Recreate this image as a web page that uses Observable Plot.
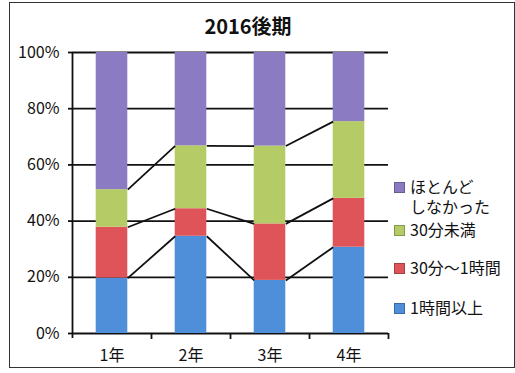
<!DOCTYPE html>
<html><head><meta charset="utf-8">
<script src="https://cdn.jsdelivr.net/npm/d3@7"></script>
<script src="https://cdn.jsdelivr.net/npm/@observablehq/plot@0.6"></script>
<style>
body{margin:0;background:#fff;}
#wrap{position:relative;width:515px;height:373px;font-family:"Noto Sans CJK JP",sans-serif;color:#111;overflow:hidden;}
#frame{position:absolute;left:9px;top:2px;width:506px;height:366px;border:1.5px solid #333;box-sizing:border-box;pointer-events:none;}
#title{position:absolute;left:0;width:496px;top:12px;text-align:center;font-weight:bold;font-size:20px;line-height:28px;}
.leg{position:absolute;left:393px;font-size:16px;line-height:20px;white-space:pre-line;padding-left:17px;}
.leg i{position:absolute;left:1px;top:5.5px;width:9px;height:9px;border:0.5px solid rgba(0,0,0,0.25);}
#chart{position:absolute;left:0;top:0;}
</style></head>
<body><div id="wrap"><div id="chart"></div><div id="title"></div><div id="frame"></div></div>
<script>
const title = "2016後期";
const years = ["1年","2年","3年","4年"];
const seriesNames = ["1時間以上","30分〜1時間","30分未満","ほとんどしなかった"];
const seriesColors = ["#4f8ed8","#de5459","#b5cc66","#8a7bc3"];
const v1 = [19.7, 34.6, 18.9, 30.7];   // 1時間以上
const v2 = [18.1,  9.8, 20.1, 17.4];   // 30分〜1時間
const v3 = [13.4, 22.4, 27.7, 27.3];   // 30分未満
const v4 = [48.8, 33.2, 33.3, 24.6];   // ほとんどしなかった
const yTicks = [0, 20, 40, 60, 80, 100];

const values = [v1, v2, v3, v4];
const half = 0.2;
const rows = [];
const tops = values.map(() => []);
years.forEach((yr, i) => {
  let cum = 0;
  values.forEach((vs, s) => {
    rows.push({i, year: yr, series: seriesNames[s], y1: cum, y2: cum + vs[i]});
    cum += vs[i];
    tops[s][i] = cum;
  });
});
const links = [];
for (let s = 0; s < 3; s++) {
  for (let i = 0; i < years.length - 1; i++) {
    links.push({x1: i + half, x2: i + 1 - half, y1: tops[s][i], y2: tops[s][i + 1]});
  }
}

document.getElementById("title").textContent = title;

const plot = Plot.plot({
  width: 515, height: 373,
  marginLeft: 72, marginRight: 127, marginTop: 52, marginBottom: 40,
  style: {fontFamily: '"Noto Sans CJK JP", sans-serif', fontSize: "16px", color: "#111", background: "transparent"},
  x: {type: "linear", domain: [-0.5, years.length - 0.5]},
  y: {domain: [0, 100]},
  color: {domain: seriesNames, range: seriesColors},
  marks: [
    Plot.ruleY(yTicks, {stroke: "#111", strokeWidth: 1.8}),
    Plot.rect(rows, {x1: d => d.i - half, x2: d => d.i + half, y1: "y1", y2: "y2", fill: "series"}),
    Plot.link(links, {x1: "x1", x2: "x2", y1: "y1", y2: "y2", stroke: "#111", strokeWidth: 1.8}),
    Plot.ruleX([-0.5], {stroke: "#111", strokeWidth: 1.8, insetBottom: -5}),
    Plot.axisY({ticks: yTicks, tickFormat: d => d + "%", tickSize: 4, tickPadding: 9, stroke: "#111", strokeWidth: 1.8, fontSize: 16}),
    Plot.axisX({ticks: [0.5, 1.5, 2.5, 3.5], tickFormat: () => "", tickSize: 6, stroke: "#111", strokeWidth: 1.8}),
    Plot.axisX({ticks: years.map((d, i) => i), tickFormat: i => years[i], tickSize: 0, tickPadding: 16, fontSize: 16})
  ]
});
document.getElementById("chart").appendChild(plot);

// legend (top to bottom: reversed series order)
const legendTops = [176, 219, 257, 297];
const wrap = document.getElementById("wrap");
seriesNames.slice().reverse().forEach((name, k) => {
  const s = seriesNames.length - 1 - k;
  const div = document.createElement("div");
  div.className = "leg";
  div.style.top = legendTops[k] + "px";
  const sw = document.createElement("i");
  sw.style.background = seriesColors[s];
  div.appendChild(sw);
  const label = name === "ほとんどしなかった" ? "ほとんど\nしなかった" : name;
  div.appendChild(document.createTextNode(label));
  wrap.appendChild(div);
});
</script></body></html>
